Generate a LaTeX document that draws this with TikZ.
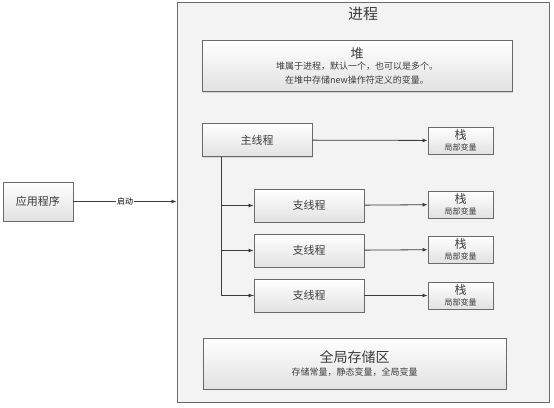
\documentclass[tikz,border=0pt]{standalone}
\usepackage{fontspec}
\setmainfont{Noto Sans CJK SC}
\usepackage{xcolor}
\usetikzlibrary{arrows.meta,shadows}
\definecolor{cframe}{HTML}{6A6A6A}
\definecolor{cback}{HTML}{F3F3F3}
\definecolor{cink}{HTML}{3C3C3C}
\definecolor{ctrunk}{HTML}{8A8A8A}
\tikzset{>={Latex[length=5pt,width=4pt]},
  box/.style={draw=cframe,line width=0.9pt,top color=white,bottom color=cback!85!gray,
    inner sep=0pt,align=center,text=cink,
    drop shadow={shadow xshift=1pt,shadow yshift=-1pt,opacity=0.25}},
  stackbox/.style={box,minimum width=65,minimum height=27},
  branchbox/.style={box,minimum width=110,minimum height=33,font=\fontsize{11}{13}\selectfont},
  link/.style={->,draw=cink,line width=0.8pt}}

\begin{document}
\begin{tikzpicture}[x=1pt,y=-1pt,font=\fontsize{9}{10}\selectfont]
\useasboundingbox (0,0) rectangle (554,407);

% ============ process frame ============
\node[draw=cframe,line width=0.9pt,fill=cback,minimum width=372,minimum height=400,inner sep=0pt] (proc) at (363,202) {};
\node[font=\fontsize{15}{17}\selectfont,text=cink] (proctitle) at (363,14) {进程};

% ============ heap ============
\node[box,minimum width=310,minimum height=51] (heap) at (357,66)
  {{\fontsize{13}{15}\selectfont 堆}\\[1pt]
   堆属于进程，默认一个，也可以是多个。\\[4pt]
   在堆中存储new操作符定义的变量。};

% ============ threads ============
\node[branchbox] (main) at (257,140) {主线程};
\node[branchbox] (br1) at (309,205.5) {支线程};
\node[branchbox] (br2) at (309,250.5) {支线程};
\node[branchbox] (br3) at (309,295.5) {支线程};

% stacks, one per thread
\foreach \name/\y in {sk0/140.5,sk1/204.5,sk2/249.5,sk3/295.5}
  \node[stackbox] (\name) at (460.5,\y)
    {{\fontsize{12}{12}\selectfont 栈}\\[1pt]{\fontsize{8}{9}\selectfont 局部变量}};

\draw[link] (main) -- (sk0);
\draw[link] (br1) -- (sk1);
\draw[link] (br2) -- (sk2);
\draw[link] (br3) -- (sk3);

% trunk from the main thread down to the branches
\coordinate (trunk) at ([xshift=20pt]main.south west);
\draw[ctrunk,line width=1.3pt] (trunk) |- (br3.west);
\foreach \b in {br1,br2,br3}
  \draw[link] (trunk) |- (\b);

% ============ global storage ============
\node[box,minimum width=303,minimum height=51] (glob) at (354.5,363.5)
  {{\fontsize{14}{16}\selectfont 全局存储区}\\[3pt]
   {\fontsize{9}{10}\selectfont 存储常量，静态变量，全局变量}};

% ============ application ============
\node[box,minimum width=70,minimum height=39,font=\fontsize{11}{13}\selectfont] (app) at (38,201.5) {应用程序};
\draw[link] (app) -- node[fill=white,inner sep=1pt,font=\fontsize{8}{9}\selectfont]{启动} (app -| proc.west);

\end{tikzpicture}
\end{document}
